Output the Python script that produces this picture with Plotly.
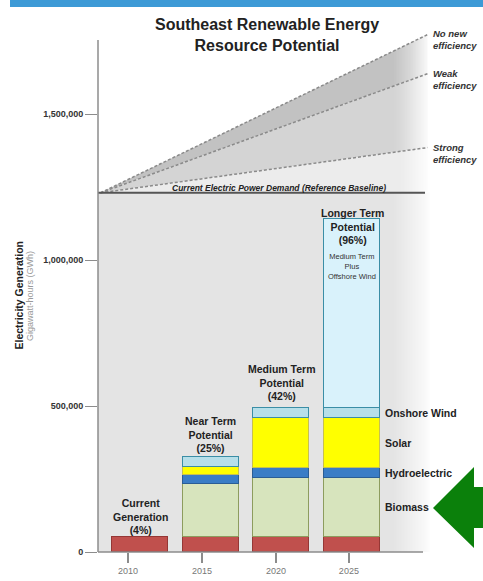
import plotly.graph_objects as go

# ---------------- data ----------------
years = [2010, 2015, 2020, 2025]
tick_positions = [2009.15, 2014.38, 2019.62, 2024.78]
tick_labels = ["2010", "2015", "2020", "2025"]
current_gen = [50000, 50000, 50000, 50000]
biomass = [None, 183000, 205000, 205000]
hydro = [None, 31000, 34000, 34000]
solar = [None, 26000, 169000, 169000]
onshore_wind = [None, 34000, 34000, 34000]
offshore_wind = [None, None, None, 647000]

bar_labels = ["Current<br>Generation<br>(4%)", "Near Term<br>Potential<br>(25%)",
              "Medium Term<br>Potential<br>(42%)", "Longer Term<br>Potential<br>(96%)"]
source_labels = ["Biomass", "Hydroelectric", "Solar", "Onshore Wind"]

baseline_demand = 1230000
scenario_years = [2007.2, 2030.35]
no_new_eff = [1230000, 1772000]
weak_eff = [1230000, 1638000]
strong_eff = [1230000, 1385000]
scenario_names = ["No new<br>efficiency", "Weak<br>efficiency", "Strong<br>efficiency"]

y_ticks = [0, 500000, 1000000, 1500000]
y_ticktext = ["0", "500,000", "1,000,000", "1,500,000"]

# ---------------- layout geometry ----------------
W, H = 483, 581
L, R, T, B = 98, 483, 0, 552
PX_PER_YEAR = (352 - 140) / 15.0
PX_PER_UNIT = 146 / 500000.0


def xd(p):  # pixel x -> year
    return 2010 + (p - 140) / PX_PER_YEAR


def px(p):  # pixel x -> paper
    return (p - L) / (R - L)


def py(p):  # pixel y -> paper
    return (B - p) / (B - T)


x_range = [xd(L), xd(R)]
y_max = (B - T) / PX_PER_UNIT
FONT = "Liberation Sans, Arial, sans-serif"

fig = go.Figure()

# ---------------- stacked bars ----------------
series = [
    ("Current", current_gen, "#c0504d", "#953735"),
    ("Biomass", biomass, "#d7e4bd", "#8d9c5e"),
    ("Hydroelectric", hydro, "#3a7dc6", "#2a5d95"),
    ("Solar", solar, "#ffff00", "#c8c050"),
    ("Onshore Wind", onshore_wind, "#b7dfe9", "#3a8ea6"),
    ("Offshore Wind", offshore_wind, "#d9f2fb", "#3a8ea6"),
]
for name, vals, fc, lc in series:
    fig.add_trace(go.Bar(x=years, y=vals, name=name, width=56 / PX_PER_YEAR,
                         marker=dict(color=fc, line=dict(color=lc, width=1.5)),
                         showlegend=False, hoverinfo="skip"))

# ---------------- demand wedge ----------------
x0, x1 = scenario_years
fills = [
    ([x0, x1, x1, x0], [baseline_demand, baseline_demand, strong_eff[1], baseline_demand], "#ececec"),
    ([x0, x1, x1, x0], [baseline_demand, strong_eff[1], weak_eff[1], baseline_demand], "#d4d4d4"),
    ([x0, x1, x1, x0], [baseline_demand, weak_eff[1], no_new_eff[1], baseline_demand], "#c2c2c2"),
]
for fx, fy, col in fills:
    fig.add_trace(go.Scatter(x=fx, y=fy, fill="toself", fillcolor=col, mode="none",
                             showlegend=False, hoverinfo="skip"))

# fade to white on the right: nested rectangles, cumulative opacity rises linearly
n_steps = 24
f0, f1 = 394, 430
for k in range(1, n_steps + 1):
    a = 1.0 / (n_steps - k + 1)
    sx0 = xd(f0 + (f1 - f0) * (k - 1) / (n_steps - 1))
    sx1 = xd(R + 10)
    fig.add_trace(go.Scatter(x=[sx0, sx1, sx1, sx0, sx0], y=[0, 0, y_max, y_max, 0],
                             fill="toself", fillcolor=f"rgba(255,255,255,{a:.4f})",
                             mode="none", showlegend=False, hoverinfo="skip"))

# scenario lines
for vals in (no_new_eff, weak_eff, strong_eff):
    fig.add_trace(go.Scatter(x=scenario_years, y=vals, mode="lines",
                             line=dict(color="#8a8a8a", width=1.5, dash="3px,2px"),
                             showlegend=False, hoverinfo="skip"))

# baseline
fig.add_trace(go.Scatter(x=[xd(L), xd(425)], y=[baseline_demand, baseline_demand], mode="lines",
                         line=dict(color="#555555", width=2), showlegend=False, hoverinfo="skip"))

# ---------------- shapes ----------------
shapes = [
    # gray background below baseline
    dict(type="rect", xref="x", yref="y", x0=xd(L), x1=xd(f1 + 2), y0=0, y1=baseline_demand,
         fillcolor="#e4e4e4", line=dict(width=0), layer="below"),
    # y axis line
    dict(type="line", xref="paper", yref="y", x0=0, x1=0, y0=0, y1=1753000,
         line=dict(color="#8c8c8c", width=1.5), layer="above"),
    # x axis line
    dict(type="line", xref="x", yref="paper", x0=xd(L), x1=xd(423), y0=0, y1=0,
         line=dict(color="#8c8c8c", width=1.5), layer="above"),
    # top blue band
    dict(type="rect", xref="paper", yref="paper", x0=px(10), x1=px(490), y0=py(7), y1=py(-5),
         fillcolor="#3d9ad6", line=dict(width=0), layer="above"),
    # green arrow
    dict(type="path", xref="paper", yref="paper",
         path=(f"M {px(433)},{py(508)} L {px(474)},{py(467)} L {px(474)},{py(487)} "
               f"L {px(490)},{py(487)} L {px(490)},{py(528)} L {px(474)},{py(528)} "
               f"L {px(474)},{py(548)} Z"),
         fillcolor="#0b800b", line=dict(width=0), layer="above"),
]

# ---------------- annotations ----------------
ann = []
ann.append(dict(text="<b>Southeast Renewable Energy<br>Resource Potential</b>",
                xref="paper", yref="paper", x=px(267), y=py(35), xanchor="center", yanchor="middle",
                showarrow=False, font=dict(family=FONT, size=16, color="#222222")))
ann.append(dict(text="<b><i>Current Electric Power Demand (Reference Baseline)</i></b>",
                xref="paper", yref="paper", x=px(279), y=py(188), xanchor="center", yanchor="middle",
                showarrow=False, font=dict(family=FONT, size=8.5, color="#222222")))
for name, ypix in zip(scenario_names, [40, 79.5, 153]):
    ann.append(dict(text=f"<b><i>{name}</i></b>", xref="paper", yref="paper", x=px(431), y=py(ypix),
                    xanchor="left", yanchor="middle", align="left", showarrow=False,
                    font=dict(family=FONT, size=9.5, color="#333333")))

# bar labels
for yr, lab, ypix in zip(years, bar_labels, [516, 434.5, 382.5, 226]):
    ann.append(dict(text=f"<b>{lab}</b>", xref="x", yref="paper", x=yr, y=py(ypix),
                    xanchor="center", yanchor="middle", showarrow=False,
                    font=dict(family=FONT, size=10.5, color="#222222")))
ann.append(dict(text="Medium Term<br>Plus<br>Offshore Wind", xref="x", yref="paper", x=years[3],
                y=py(266), xanchor="center", yanchor="middle", showarrow=False,
                font=dict(family=FONT, size=7.5, color="#333333")))

# source labels at segment mid-points of the 2025 bar
stack = current_gen[3]
for lab, seg in zip(source_labels, [biomass[3], hydro[3], solar[3], onshore_wind[3]]):
    ann.append(dict(text=f"<b>{lab}</b>", xref="paper", yref="y", x=px(383), y=stack + seg / 2,
                    xanchor="left", yanchor="middle", showarrow=False,
                    font=dict(family=FONT, size=10.5, color="#222222")))
    stack += seg

# y axis titles
ann.append(dict(text="<b>Electricity Generation</b>", xref="paper", yref="paper", x=px(18.5), y=py(295),
                textangle=-90, xanchor="center", yanchor="middle", showarrow=False,
                font=dict(family=FONT, size=10.5, color="#222222")))
ann.append(dict(text="Gigawatt-hours (GWh)", xref="paper", yref="paper", x=px(29.5), y=py(296.5),
                textangle=-90, xanchor="center", yanchor="middle", showarrow=False,
                font=dict(family=FONT, size=9, color="#9a9a9a")))

fig.update_layout(
    width=W, height=H,
    margin=dict(l=L, r=W - R, t=T, b=H - B, pad=0),
    paper_bgcolor="white", plot_bgcolor="white",
    barmode="stack", bargap=0,
    showlegend=False,
    shapes=shapes, annotations=ann,
    xaxis=dict(range=x_range, tickvals=tick_positions, ticktext=tick_labels,
               showgrid=False, zeroline=False, showline=False,
               ticks="outside", ticklen=10, tickwidth=1.5, tickcolor="#8c8c8c",
               tickfont=dict(family=FONT, size=9, color="#777777")),
    yaxis=dict(range=[0, y_max], tickvals=y_ticks, ticktext=y_ticktext,
               showgrid=False, zeroline=False, showline=False,
               ticks="outside", ticklen=12, tickwidth=1.2, tickcolor="#8c8c8c",
               tickfont=dict(family=FONT, size=9, color="#333333", weight="bold")),
)

fig.write_html("out.html")
